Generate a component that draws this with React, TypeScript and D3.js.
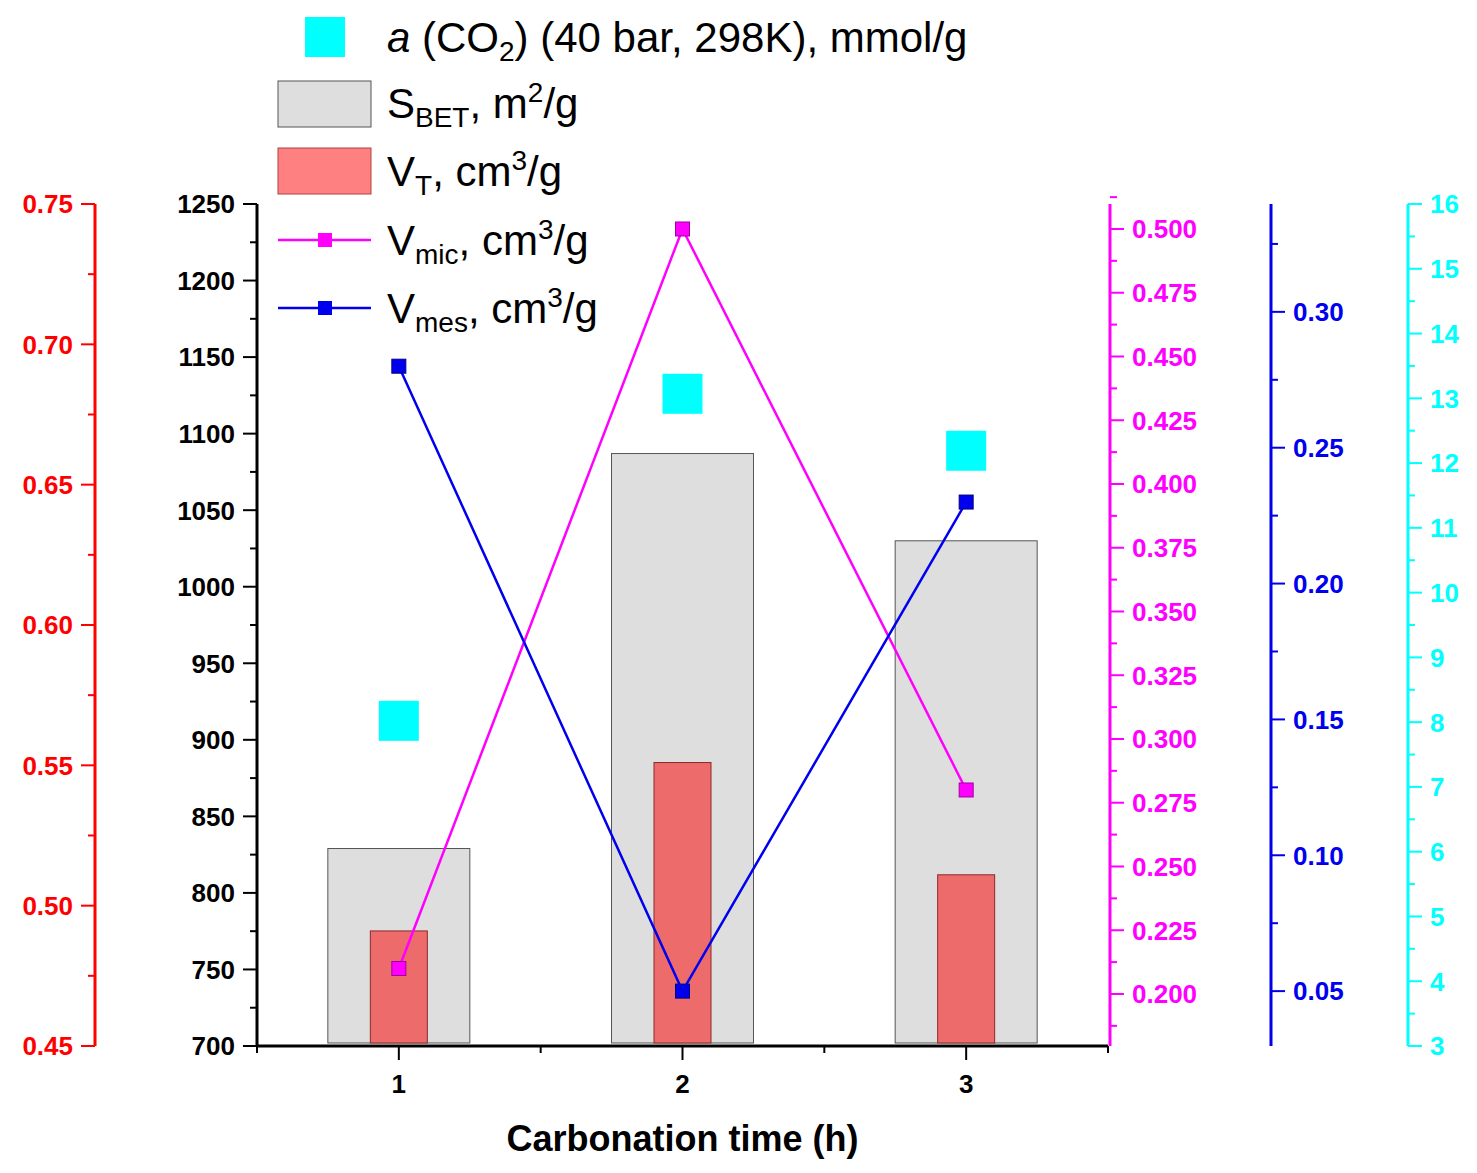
import * as d3 from "d3";

const hours = [1, 2, 3];
const sBet = [829, 1087, 1030];
const vTotal = [0.491, 0.551, 0.511];
const vMic = [0.21, 0.5, 0.28];
const vMes = [0.28, 0.05, 0.23];
const aCO2 = [8.02, 13.07, 12.19];

const top = 204, bottom = 1046, left = 257, right = 1108;
const font = "Liberation Sans, Arial, sans-serif";
const tickFs = 26;

const x = d3.scaleLinear().domain([0.5, 3.5]).range([left, right]);
const yS = d3.scaleLinear().domain([700, 1250]).range([bottom, top]);
const yV = d3.scaleLinear().domain([0.45, 0.75]).range([bottom, top]);
const yMic = d3.scaleLinear().domain([0.1796, 0.5098]).range([bottom, top]);
const yMes = d3.scaleLinear().domain([0.0298, 0.3397]).range([bottom, top]);
const yA = d3.scaleLinear().domain([3, 16]).range([bottom, top]);

type AxisProps = {
  scale: d3.ScaleLinear<number, number>; x0: number; side: "left" | "right";
  color: string; major: number[]; minor: number[]; fmt: (v: number) => string;
};

function Axis({scale, x0, side, color, major, minor, fmt}: AxisProps) {
  const s = side === "left" ? -1 : 1;
  return <g>
    <line x1={x0} x2={x0} y1={top} y2={bottom} stroke={color} strokeWidth={3}/>
    {minor.map((v, i) => <line key={"m" + i} x1={x0} x2={x0 + s * 7} y1={scale(v)} y2={scale(v)} stroke={color} strokeWidth={2}/>)}
    {major.map((v, i) => <g key={i}>
      <line x1={x0} x2={x0 + s * 14} y1={scale(v)} y2={scale(v)} stroke={color} strokeWidth={2}/>
      <text x={x0 + s * 22} y={scale(v)} dy="0.36em" textAnchor={side === "left" ? "end" : "start"}
            fill={color} fontSize={tickFs} fontWeight="bold" fontFamily={font}>{fmt(v)}</text>
    </g>)}
  </g>;
}

const rng = (a: number, b: number, st: number) => d3.range(0, Math.round((b - a) / st) + 1).map(i => +(a + i * st).toFixed(4));

export default function App() {
  const mic = d3.line<number>().x((_, i) => x(hours[i])).y(d => yMic(d));
  const mes = d3.line<number>().x((_, i) => x(hours[i])).y(d => yMes(d));
  const legendText = {fontSize: 42, fontFamily: font, fill: "#000"};
  const sub = 28;
  return <svg width={1477} height={1173} style={{position: "absolute", left: 0, top: 0, display: "block", background: "#fff"}}>
    {hours.map((h, i) => <rect key={"s" + i} x={x(h) - 71} width={142} y={yS(sBet[i])} height={yS(700) - yS(sBet[i]) - 3}
                               fill="#dedede" stroke="#555" strokeWidth={1}/>)}
    {hours.map((h, i) => <rect key={"v" + i} x={x(h) - 28.5} width={57} y={yV(vTotal[i])} height={yV(0.45) - yV(vTotal[i]) - 3}
                               fill="#ee6b6b" stroke="#8a2a2a" strokeWidth={1}/>)}
    <Axis scale={yV} x0={95} side="left" color="#ff0000" major={rng(0.45, 0.75, 0.05)} minor={rng(0.475, 0.725, 0.05)} fmt={d3.format(".2f")}/>
    <Axis scale={yS} x0={left} side="left" color="#000" major={rng(700, 1250, 50)} minor={rng(725, 1225, 50)} fmt={d3.format("d")}/>
    <Axis scale={yMic} x0={right + 2} side="right" color="#ff00ff" major={rng(0.2, 0.5, 0.025)} minor={rng(0.1875, 0.5, 0.025)} fmt={d3.format(".3f")}/>
    <Axis scale={yMes} x0={1271} side="right" color="#0000ee" major={rng(0.05, 0.3, 0.05)} minor={rng(0.075, 0.325, 0.05)} fmt={d3.format(".2f")}/>
    <Axis scale={yA} x0={1408} side="right" color="#00ffff" major={rng(3, 16, 1)} minor={rng(3.5, 15.5, 1)} fmt={d3.format("d")}/>
    <line x1={left} x2={right} y1={bottom} y2={bottom} stroke="#000" strokeWidth={3}/>
    {[0.5, 1.5, 2.5, 3.5].map(v => <line key={v} x1={x(v)} x2={x(v)} y1={bottom} y2={bottom + 7} stroke="#000" strokeWidth={2}/>)}
    {hours.map(h => <g key={h}>
      <line x1={x(h)} x2={x(h)} y1={bottom} y2={bottom + 14} stroke="#000" strokeWidth={2}/>
      <text x={x(h)} y={bottom + 47} textAnchor="middle" fontSize={tickFs} fontWeight="bold" fontFamily={font}>{h}</text>
    </g>)}
    <text x={x(2)} y={1151} textAnchor="middle" fontSize={36} fontWeight="bold" fontFamily={font}>Carbonation time (h)</text>
    <path d={mic(vMic) ?? ""} fill="none" stroke="#ff00ff" strokeWidth={2.5}/>
    <path d={mes(vMes) ?? ""} fill="none" stroke="#0000ee" strokeWidth={2.5}/>
    {hours.map((h, i) => <rect key={"mi" + i} x={x(h) - 7} y={yMic(vMic[i]) - 7} width={14} height={14} fill="#ff00ff" stroke="#a000a0" strokeWidth={1}/>)}
    {hours.map((h, i) => <rect key={"me" + i} x={x(h) - 7} y={yMes(vMes[i]) - 7} width={14} height={14} fill="#0000ee" stroke="#000080" strokeWidth={1}/>)}
    {hours.map((h, i) => <rect key={"a" + i} x={x(h) - 20} y={yA(aCO2[i]) - 20} width={40} height={40} fill="#00ffff"/>)}
    <rect x={305} y={17} width={40} height={40} fill="#00ffff"/>
    <text x={387} y={52} {...legendText}><tspan fontStyle="italic">a</tspan> (CO<tspan fontSize={sub} dy={9}>2</tspan><tspan dy={-9}>) (40 bar, 298K), mmol/g</tspan></text>
    <rect x={278} y={81} width={93} height={46} fill="#dedede" stroke="#555"/>
    <text x={387} y={118} {...legendText}>S<tspan fontSize={sub} dy={9}>BET</tspan><tspan dy={-9}>, m</tspan><tspan fontSize={sub} dy={-16}>2</tspan><tspan dy={16}>/g</tspan></text>
    <rect x={278} y={148} width={93} height={46} fill="#ff8080" stroke="#b04040"/>
    <text x={387} y={186} {...legendText}>V<tspan fontSize={sub} dy={9}>T</tspan><tspan dy={-9}>, cm</tspan><tspan fontSize={sub} dy={-16}>3</tspan><tspan dy={16}>/g</tspan></text>
    <line x1={278} x2={371} y1={240} y2={240} stroke="#ff00ff" strokeWidth={2.5}/>
    <rect x={318} y={233} width={14} height={14} fill="#ff00ff"/>
    <text x={387} y={255} {...legendText}>V<tspan fontSize={sub} dy={9}>mic</tspan><tspan dy={-9}>, cm</tspan><tspan fontSize={sub} dy={-16}>3</tspan><tspan dy={16}>/g</tspan></text>
    <line x1={278} x2={371} y1={308} y2={308} stroke="#0000ee" strokeWidth={2.5}/>
    <rect x={318} y={301} width={14} height={14} fill="#0000ee"/>
    <text x={387} y={323} {...legendText}>V<tspan fontSize={sub} dy={9}>mes</tspan><tspan dy={-9}>, cm</tspan><tspan fontSize={sub} dy={-16}>3</tspan><tspan dy={16}>/g</tspan></text>
  </svg>;
}
